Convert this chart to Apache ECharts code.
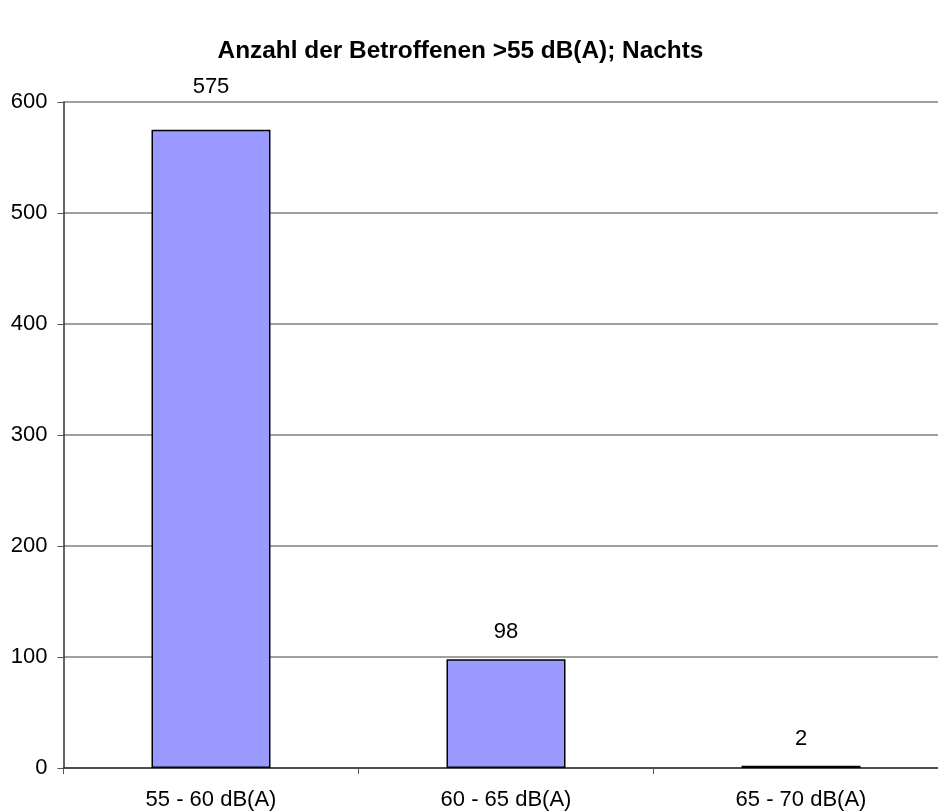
<!DOCTYPE html>
<html>
<head>
<meta charset="utf-8">
<script src="https://cdn.jsdelivr.net/npm/echarts@6/dist/echarts.min.js"></script>
<style>
html,body{margin:0;padding:0;background:#fff;overflow:hidden;width:938px;height:811px;}
#wrap{position:relative;width:938px;height:811px;overflow:hidden;}
#chart{position:absolute;left:0;top:0;width:950px;height:811px;}
</style>
</head>
<body>
<div id="wrap"><div id="chart"></div></div>
<script>
const titleText = 'Anzahl der Betroffenen >55 dB(A); Nachts';
const categories = ['55 - 60 dB(A)', '60 - 65 dB(A)', '65 - 70 dB(A)'];
const values = [575, 98, 2];
const yTicks = [0, 100, 200, 300, 400, 500, 600];
const labelGaps = [32, 16, 16];

const chart = echarts.init(document.getElementById('chart'));
const font = '"Liberation Sans", Arial, sans-serif';
chart.setOption({
  animation: false,
  backgroundColor: '#ffffff',
  title: {
    text: titleText,
    left: 455.5, textAlign: 'center',
    top: 34,
    textStyle: { fontFamily: font, fontWeight: 'bold', fontSize: 24.4, color: '#000' }
  },
  grid: { left: 63.5, top: 102, width: 885, height: 667, containLabel: false },
  xAxis: {
    type: 'category',
    data: categories,
    axisLine: { lineStyle: { color: '#333', width: 1.5 } },
    axisTick: { show: true, length: 6, lineStyle: { color: '#555' } },
    axisLabel: { fontFamily: font, fontSize: 22, color: '#000', margin: 21 }
  },
  yAxis: {
    type: 'value',
    min: yTicks[0], max: yTicks[yTicks.length - 1], interval: 100,
    axisLine: { show: true, lineStyle: { color: '#333', width: 1.5 } },
    axisTick: { show: true, length: 6, lineStyle: { color: '#555' } },
    axisLabel: { fontFamily: font, fontSize: 22, color: '#000', margin: 16 },
    splitLine: { show: true, lineStyle: { color: '#808080', width: 1.5 } }
  },
  series: [{
    type: 'bar',
    data: values.map((v, i) => ({
      value: v,
      label: { distance: labelGaps[i] }
    })),
    barWidth: 119,
    itemStyle: { color: '#9999FF', borderColor: '#000', borderWidth: 1.5 },
    label: {
      show: true, position: 'top',
      fontFamily: font, fontSize: 22, color: '#000'
    }
  }]
});
</script>
</body>
</html>
